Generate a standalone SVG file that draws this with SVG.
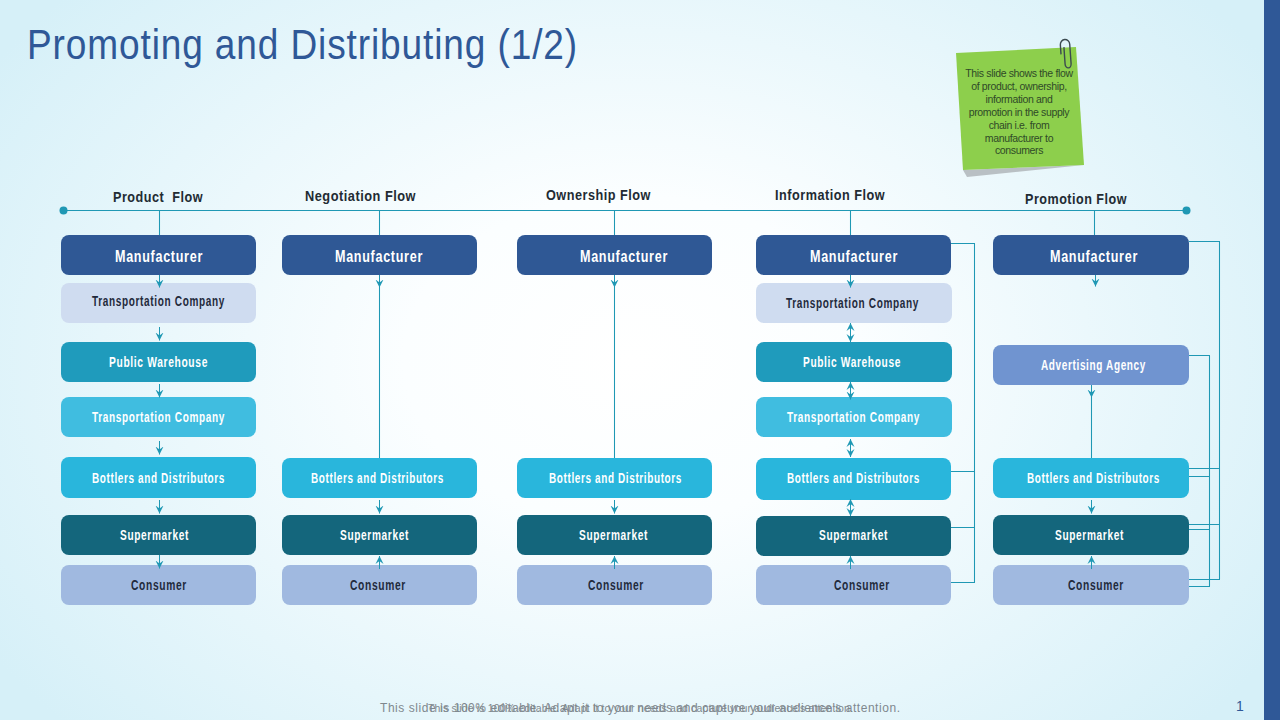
<svg xmlns="http://www.w3.org/2000/svg" width="1280" height="720" viewBox="0 0 1280 720">
<style>
text{font-family:"Liberation Sans",Arial,sans-serif}
.n{font-weight:bold;font-size:14px;fill:#fff;letter-spacing:.9px}
.m{font-size:16px}
.d{fill:#1f2a3c}
.h{font-weight:bold;font-size:15px;fill:#222b33;letter-spacing:.6px}
.c{fill:none;stroke:#1f98b4;stroke-width:1.05}
.a{marker-end:url(#ah)}
.b{marker-start:url(#ah);marker-end:url(#ah)}
.s{font-size:10.5px;fill:#2f4a28;text-anchor:middle;letter-spacing:-.35px}
.f{fill:#7f888e}
</style>
<defs>
<radialGradient id="bg" gradientUnits="userSpaceOnUse" cx="632" cy="360" r="760" gradientTransform="translate(632 360) scale(1 .72) translate(-632 -360)">
<stop offset="0" stop-color="#fff"/><stop offset=".3" stop-color="#fbfeff"/><stop offset="1" stop-color="#d6f0f8"/>
</radialGradient>
<marker id="ah" markerUnits="userSpaceOnUse" markerWidth="8" markerHeight="9" refX="8" refY="4.500" orient="auto-start-reverse" viewBox="0 0 8 9">
<path d="M0,0.500L8,4.500L0,8.500L3,4.500Z" fill="#1f98b4"/>
</marker>
</defs>
<rect width="1280" height="720" fill="url(#bg)"/>
<rect x="1264" width="16" height="720" fill="#2f5897"/>
<text x="27" y="59" font-size="42" letter-spacing="1" fill="#2f5897" textLength="551" lengthAdjust="spacingAndGlyphs">Promoting and Distributing (1/2)</text>
<g id="note">
<polygon points="963,170 967,177 1084,165" fill="#b9c0c4"/>
<polygon points="956,53 1076,47 1084,165 963,170" fill="#8dcf4c"/>
<path transform="rotate(-4 1066 54)" d="M1061,54V44.500a4.700,5 0 0 1 9.400,0V64a3,4 0 0 1 -6,0V47" fill="none" stroke="#3b4a50" stroke-width="1.400"/>
<text class="s" x="1019" y="77">This slide shows the flow</text>
<text class="s" x="1019" y="90">of product, ownership,</text>
<text class="s" x="1019" y="103">information and</text>
<text class="s" x="1019" y="116">promotion in the supply</text>
<text class="s" x="1019" y="129">chain i.e. from</text>
<text class="s" x="1019" y="142">manufacturer to</text>
<text class="s" x="1019" y="154">consumers</text>
</g>
<g id="product-flow">
<text class="h" x="113" y="202" textLength="90" lengthAdjust="spacingAndGlyphs" xml:space="preserve">Product  Flow</text>
<g id="c1-manufacturer"><rect x="61" y="235" width="195" height="40" rx="8" fill="#2f5895"/><text class="n m" x="115" y="262" textLength="88" lengthAdjust="spacingAndGlyphs">Manufacturer</text></g>
<g id="c1-transport1"><rect x="61" y="283" width="195" height="40" rx="8" fill="#cfdcf0"/><text class="n d" x="92" y="306" textLength="133" lengthAdjust="spacingAndGlyphs">Transportation Company</text></g>
<g id="c1-warehouse"><rect x="61" y="342" width="195" height="40" rx="8" fill="#1f9bbc"/><text class="n" x="109" y="367" textLength="99" lengthAdjust="spacingAndGlyphs">Public Warehouse</text></g>
<g id="c1-transport2"><rect x="61" y="397" width="195" height="40" rx="8" fill="#40bde0"/><text class="n" x="92" y="422" textLength="133" lengthAdjust="spacingAndGlyphs">Transportation Company</text></g>
<g id="c1-bottlers"><rect x="61" y="457" width="195" height="41" rx="8" fill="#29b6dc"/><text class="n" x="92" y="483" textLength="133" lengthAdjust="spacingAndGlyphs">Bottlers and Distributors</text></g>
<g id="c1-supermarket"><rect x="61" y="515" width="195" height="40" rx="8" fill="#14667c"/><text class="n" x="120" y="540" textLength="69" lengthAdjust="spacingAndGlyphs">Supermarket</text></g>
<g id="c1-consumer"><rect x="61" y="565" width="195" height="40" rx="8" fill="#a0b9e0"/><text class="n d" x="131" y="590" textLength="56" lengthAdjust="spacingAndGlyphs">Consumer</text></g>
</g>
<g id="negotiation-flow">
<text class="h" x="305" y="201" textLength="111" lengthAdjust="spacingAndGlyphs">Negotiation Flow</text>
<g id="c2-manufacturer"><rect x="282" y="235" width="195" height="40" rx="8" fill="#2f5895"/><text class="n m" x="335" y="262" textLength="88" lengthAdjust="spacingAndGlyphs">Manufacturer</text></g>
<g id="c2-bottlers"><rect x="282" y="458" width="195" height="40" rx="8" fill="#29b6dc"/><text class="n" x="311" y="483" textLength="133" lengthAdjust="spacingAndGlyphs">Bottlers and Distributors</text></g>
<g id="c2-supermarket"><rect x="282" y="515" width="195" height="40" rx="8" fill="#14667c"/><text class="n" x="340" y="540" textLength="69" lengthAdjust="spacingAndGlyphs">Supermarket</text></g>
<g id="c2-consumer"><rect x="282" y="565" width="195" height="40" rx="8" fill="#a0b9e0"/><text class="n d" x="350" y="590" textLength="56" lengthAdjust="spacingAndGlyphs">Consumer</text></g>
</g>
<g id="ownership-flow">
<text class="h" x="546" y="200" textLength="105" lengthAdjust="spacingAndGlyphs">Ownership Flow</text>
<g id="c3-manufacturer"><rect x="517" y="235" width="195" height="40" rx="8" fill="#2f5895"/><text class="n m" x="580" y="262" textLength="88" lengthAdjust="spacingAndGlyphs">Manufacturer</text></g>
<g id="c3-bottlers"><rect x="517" y="458" width="195" height="40" rx="8" fill="#29b6dc"/><text class="n" x="549" y="483" textLength="133" lengthAdjust="spacingAndGlyphs">Bottlers and Distributors</text></g>
<g id="c3-supermarket"><rect x="517" y="515" width="195" height="40" rx="8" fill="#14667c"/><text class="n" x="579" y="540" textLength="69" lengthAdjust="spacingAndGlyphs">Supermarket</text></g>
<g id="c3-consumer"><rect x="517" y="565" width="195" height="40" rx="8" fill="#a0b9e0"/><text class="n d" x="588" y="590" textLength="56" lengthAdjust="spacingAndGlyphs">Consumer</text></g>
</g>
<g id="information-flow">
<text class="h" x="775" y="200" textLength="110" lengthAdjust="spacingAndGlyphs">Information Flow</text>
<g id="c4-manufacturer"><rect x="756" y="235" width="195" height="40" rx="8" fill="#2f5895"/><text class="n m" x="810" y="262" textLength="88" lengthAdjust="spacingAndGlyphs">Manufacturer</text></g>
<g id="c4-transport1"><rect x="756" y="283" width="196" height="40" rx="8" fill="#cfdcf0"/><text class="n d" x="786" y="308" textLength="133" lengthAdjust="spacingAndGlyphs">Transportation Company</text></g>
<g id="c4-warehouse"><rect x="756" y="342" width="196" height="40" rx="8" fill="#1f9bbc"/><text class="n" x="803" y="367" textLength="98" lengthAdjust="spacingAndGlyphs">Public Warehouse</text></g>
<g id="c4-transport2"><rect x="756" y="397" width="196" height="40" rx="8" fill="#40bde0"/><text class="n" x="787" y="422" textLength="133" lengthAdjust="spacingAndGlyphs">Transportation Company</text></g>
<g id="c4-bottlers"><rect x="756" y="458" width="195" height="42" rx="8" fill="#29b6dc"/><text class="n" x="787" y="483" textLength="133" lengthAdjust="spacingAndGlyphs">Bottlers and Distributors</text></g>
<g id="c4-supermarket"><rect x="756" y="516" width="195" height="40" rx="8" fill="#14667c"/><text class="n" x="819" y="540" textLength="69" lengthAdjust="spacingAndGlyphs">Supermarket</text></g>
<g id="c4-consumer"><rect x="756" y="565" width="195" height="40" rx="8" fill="#a0b9e0"/><text class="n d" x="834" y="590" textLength="56" lengthAdjust="spacingAndGlyphs">Consumer</text></g>
</g>
<g id="promotion-flow">
<text class="h" x="1025" y="204" textLength="102" lengthAdjust="spacingAndGlyphs">Promotion Flow</text>
<g id="c5-manufacturer"><rect x="993" y="235" width="196" height="40" rx="8" fill="#2f5895"/><text class="n m" x="1050" y="262" textLength="88" lengthAdjust="spacingAndGlyphs">Manufacturer</text></g>
<g id="c5-agency"><rect x="993" y="345" width="196" height="40" rx="8" fill="#7094d0"/><text class="n" x="1041" y="370" textLength="105" lengthAdjust="spacingAndGlyphs">Advertising Agency</text></g>
<g id="c5-bottlers"><rect x="993" y="458" width="196" height="40" rx="8" fill="#29b6dc"/><text class="n" x="1027" y="483" textLength="133" lengthAdjust="spacingAndGlyphs">Bottlers and Distributors</text></g>
<g id="c5-supermarket"><rect x="993" y="515" width="196" height="40" rx="8" fill="#14667c"/><text class="n" x="1055" y="540" textLength="69" lengthAdjust="spacingAndGlyphs">Supermarket</text></g>
<g id="c5-consumer"><rect x="993" y="565" width="196" height="40" rx="8" fill="#a0b9e0"/><text class="n d" x="1068" y="590" textLength="56" lengthAdjust="spacingAndGlyphs">Consumer</text></g>
</g>
<g id="connectors">
<line class="c" x1="63" y1="210.500" x2="1187" y2="210.500"/>
<circle cx="63.500" cy="210.500" r="4" fill="#1f98b4"/>
<circle cx="1186.500" cy="210.500" r="4" fill="#1f98b4"/>
<path class="c" d="M159.500,210.500V235M379.500,210.500V235M614.500,210.500V235M850.500,210.500V235M1094.500,210.500V235"/>
<path class="c" d="M379.500,287V458M614.500,287V458M1091.500,397V458"/>
<path class="c" d="M951,243.500H974.500V582.500H951M951,471.500H974.500M951,527.500H974.500"/>
<path class="c" d="M1189,241.500H1219.500V579.500H1189M1189,468.500H1219.500M1189,524.500H1219.500"/>
<path class="c" d="M1189,355.500H1209.500V586.500H1189M1189,476.500H1209.500M1189,529.500H1209.500"/>
<line class="c a" x1="159.500" y1="275" x2="159.500" y2="287.500"/>
<line class="c a" x1="159.500" y1="327" x2="159.500" y2="340.500"/>
<line class="c a" x1="159.500" y1="384" x2="159.500" y2="397.500"/>
<line class="c a" x1="159.500" y1="441" x2="159.500" y2="454.500"/>
<line class="c a" x1="159.500" y1="500" x2="159.500" y2="513.500"/>
<line class="c a" x1="159.500" y1="555" x2="159.500" y2="568.500"/>
<line class="c a" x1="379.500" y1="275" x2="379.500" y2="287.500"/>
<line class="c a" x1="379.500" y1="500" x2="379.500" y2="513.500"/>
<line class="c a" x1="379.500" y1="569" x2="379.500" y2="556"/>
<line class="c a" x1="614.500" y1="275" x2="614.500" y2="287.500"/>
<line class="c a" x1="614.500" y1="500" x2="614.500" y2="513.500"/>
<line class="c a" x1="614.500" y1="569" x2="614.500" y2="556"/>
<line class="c a" x1="850.500" y1="275" x2="850.500" y2="287.500"/>
<line class="c b" x1="850.500" y1="323" x2="850.500" y2="342"/>
<line class="c b" x1="850.500" y1="382" x2="850.500" y2="399.500"/>
<line class="c b" x1="850.500" y1="439" x2="850.500" y2="457"/>
<line class="c b" x1="850.500" y1="499" x2="850.500" y2="516"/>
<line class="c a" x1="850.500" y1="569" x2="850.500" y2="556"/>
<line class="c a" x1="1095.500" y1="275" x2="1095.500" y2="286.500"/>
<line class="c a" x1="1091.500" y1="385" x2="1091.500" y2="397.500"/>
<line class="c a" x1="1091.500" y1="500" x2="1091.500" y2="513.500"/>
<line class="c a" x1="1091.500" y1="569" x2="1091.500" y2="556"/>
</g>
<text class="f" x="380" y="712" font-size="12" textLength="520">This slide is 100% editable. Adapt it to your needs and capture your audience's attention.</text>
<text class="f" x="428" y="712" font-size="10.500" textLength="425">This slide is 100% editable. Adapt it to your needs and capture your audience's attention.</text>
<text x="1236" y="711" font-size="14" fill="#2f5897">1</text>
</svg>
